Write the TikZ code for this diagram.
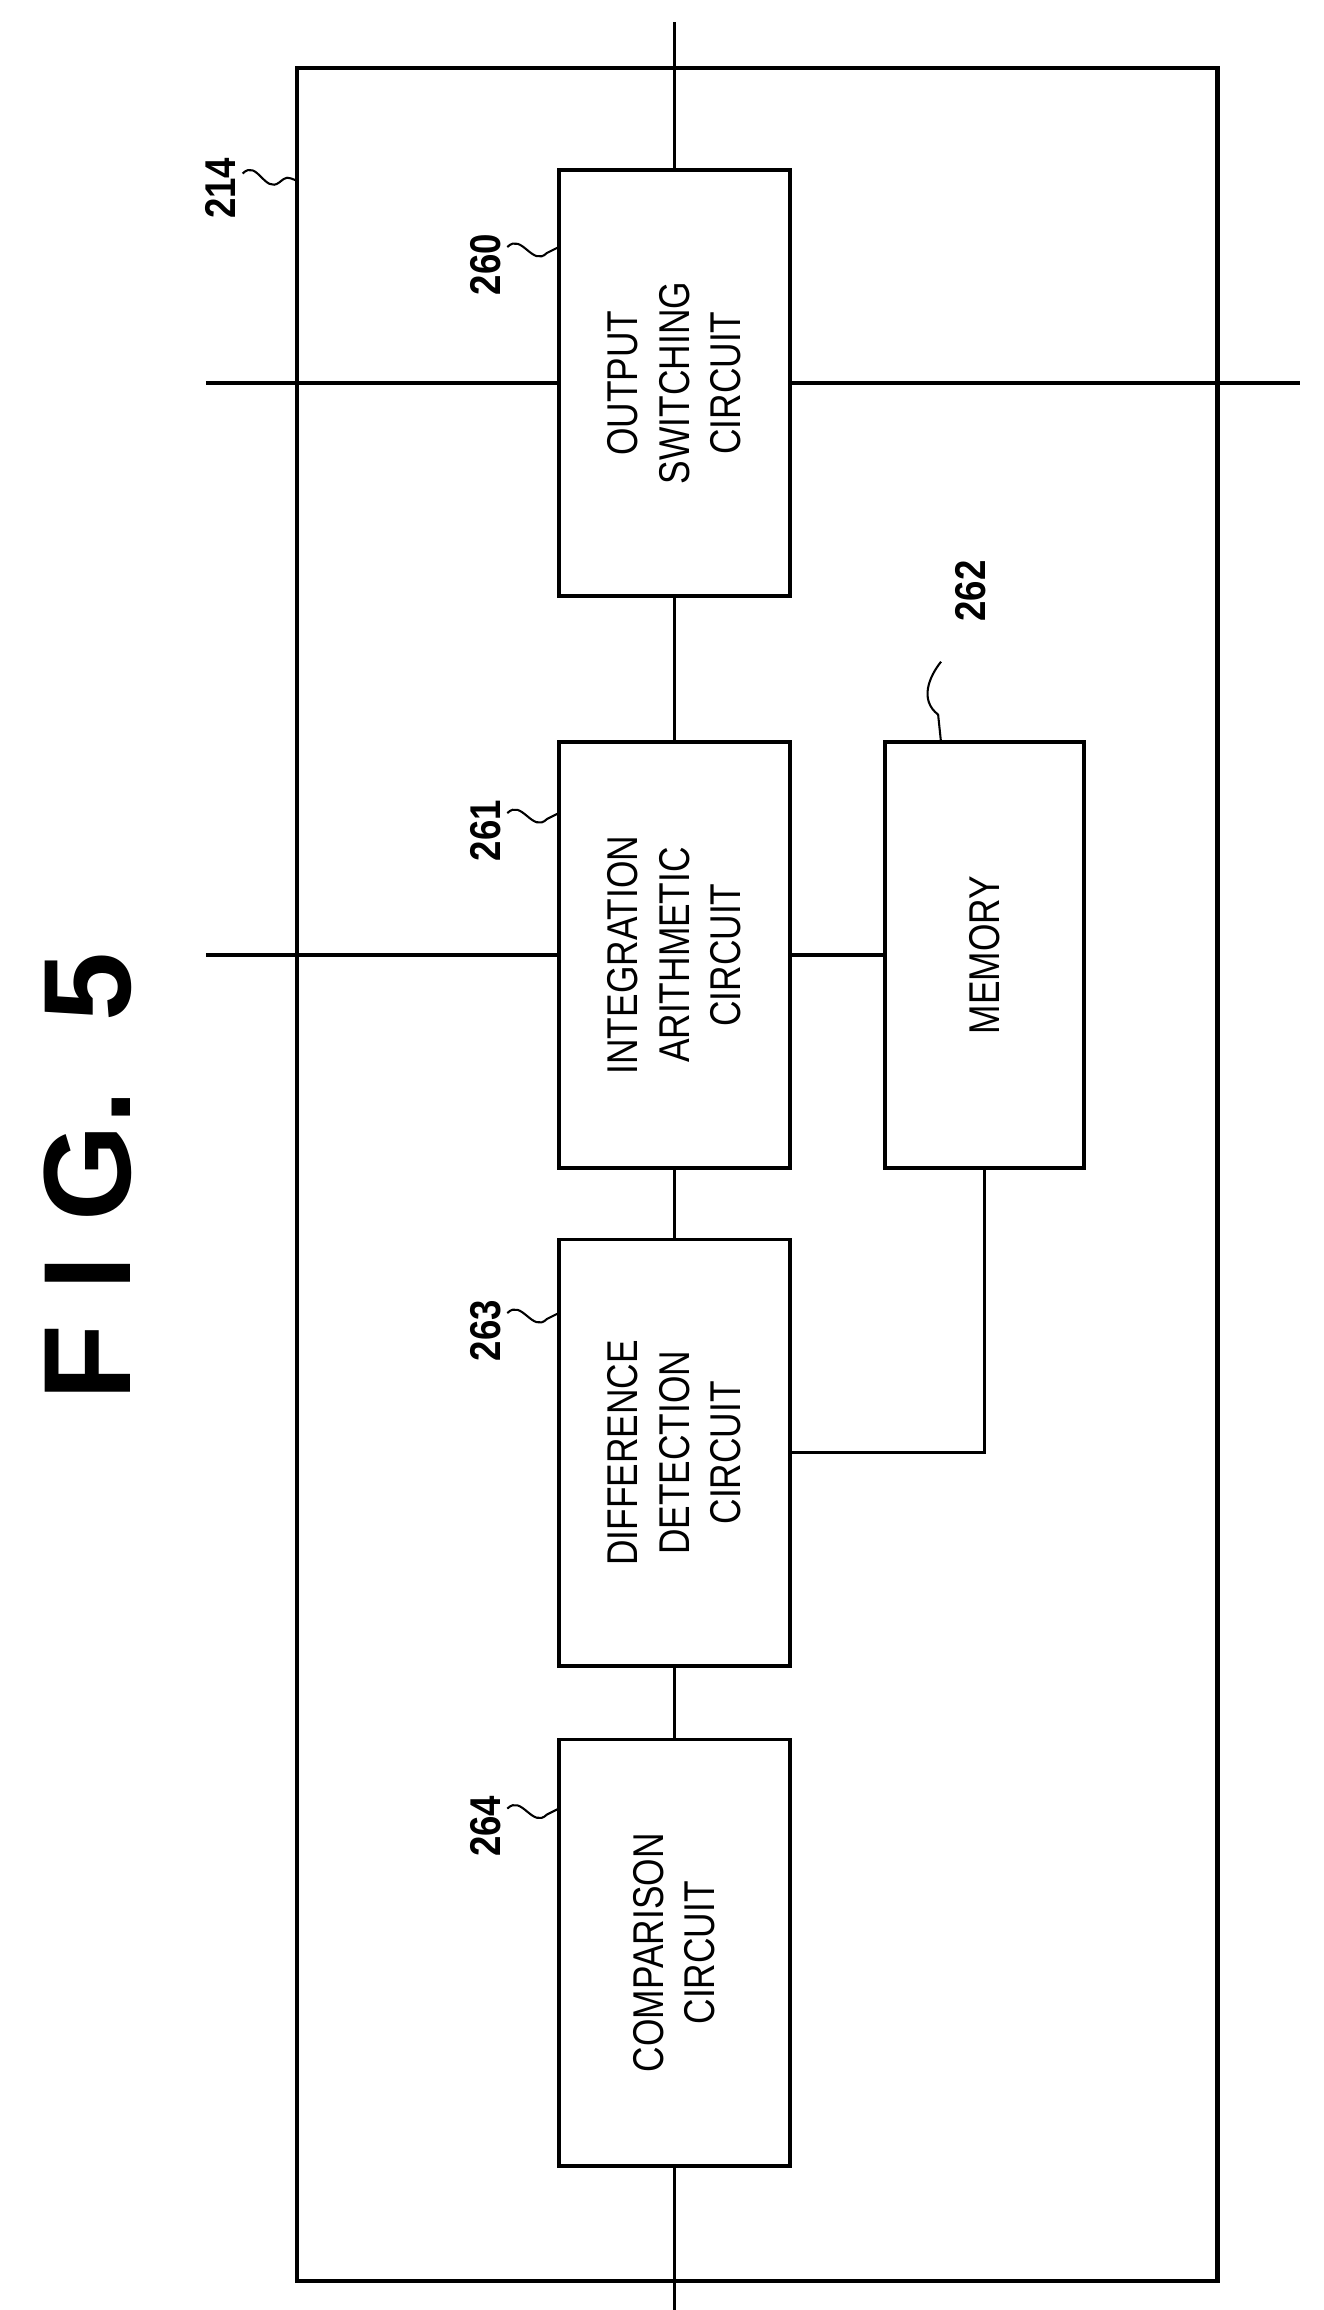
\documentclass[tikz,border=0pt]{standalone}
\usepackage{fontspec}
\setmainfont{Liberation Sans}
\usetikzlibrary{positioning}
\tikzset{
        blk/.style={draw, line width=2.2pt, rotate=90, align=center,
                    minimum width=8.7cm, minimum height=4.71cm,
                    font=\fontsize{25}{30}\selectfont\addfontfeature{FakeStretch=0.82}},
        ref/.style={rotate=90, font=\fontsize{25}{28}\selectfont\bfseries\addfontfeature{FakeStretch=0.85}},
        wire/.style={line width=1.8pt},
        lead/.style={line width=1.2pt},
}
\begin{document}
\begin{tikzpicture}[x=0.03cm, y=-0.03cm]
        \useasboundingbox (0,0) rectangle (900,1571);
        \node[rotate=90, font=\fontsize{72}{80}\selectfont\bfseries] (title) at (60,800) {F I G.\ \ 5};

        \draw[line width=2.4pt] (202,46) rectangle (828,1551);
        \node[ref] (r214) at (150,128) {214};
        \draw[lead] (165,118) .. controls (175,108) and (180,132) .. (190,124)
                    .. controls (195,120) .. (202,123);

        \node[blk] (b260) at (458.5,260.5) {OUTPUT\\SWITCHING\\CIRCUIT};
        \node[blk] (b261) at (458.5,649.5) {INTEGRATION\\ARITHMETIC\\CIRCUIT};
        \node[blk, minimum height=4.05cm] (b262) at (669.5,649.5) {MEMORY};
        \node[blk] (b263) at (458.5,988) {DIFFERENCE\\DETECTION\\CIRCUIT};
        \node[blk] (b264) at (458.5,1328) {COMPARISON\\CIRCUIT};

        % reference numerals
        \node[ref] (r260) at (330,180) {260};
        \node[ref] (r261) at (330,565) {261};
        \node[ref] (r262) at (660,402) {262};
        \node[ref] (r263) at (330,905) {263};
        \node[ref] (r264) at (330,1242) {264};
        \draw[lead] (345,168) .. controls (355,158) and (362,182) .. (372,172) -- (380,168);
        \draw[lead] (345,553) .. controls (355,543) and (362,567) .. (372,557) -- (380,553);
        \draw[lead] (345,893) .. controls (355,883) and (362,907) .. (372,897) -- (380,893);
        \draw[lead] (345,1230) .. controls (355,1220) and (362,1244) .. (372,1234) -- (380,1230);
        \draw[lead] (640,450) .. controls (632,460) and (625,476) .. (638,486) -- (640,505);

        % free ends
        \coordinate (topin) at (458.5,15);
        \coordinate (botout) at (458.5,1571);
        \coordinate (leftA) at (140,260.5);
        \coordinate (rightA) at (884,260.5);
        \coordinate (leftB) at (140,649.5);

        \draw[wire] (topin) -- (b260.east);
        \draw[wire] (b260.west) -- (b261.east);
        \draw[wire] (b261.west) -- (b263.east);
        \draw[wire] (b263.west) -- (b264.east);
        \draw[wire] (b264.west) -- (botout);
        \draw[wire] (leftA) -- (b260.north);
        \draw[wire] (b260.south) -- (rightA);
        \draw[wire] (leftB) -- (b261.north);
        \draw[wire] (b261.south) -- (b262.north);
        \draw[wire] (b262.west) |- (b263.south);
\end{tikzpicture}
\end{document}
